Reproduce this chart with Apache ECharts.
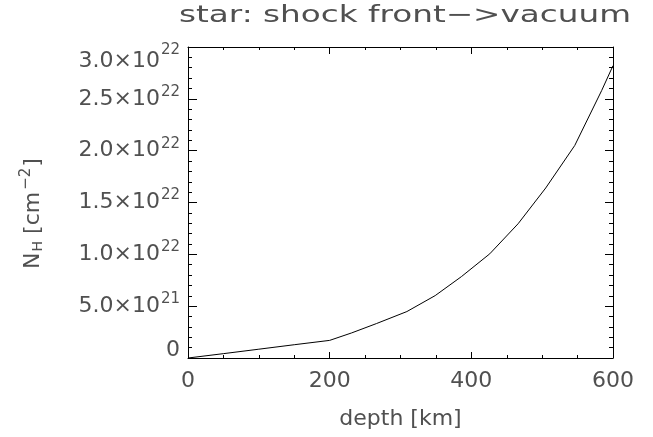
<!DOCTYPE html>
<html>
<head>
<meta charset="utf-8">
<script src="https://cdn.jsdelivr.net/npm/echarts@6/dist/echarts.min.js"></script>
<style>html,body{margin:0;padding:0;background:#fff}#c{width:653px;height:437px}</style>
</head>
<body>
<div id="c"></div>
<script>
// ---- data ----
const titleText = 'star: shock front\u2212>vacuum';
const xName = 'depth [km]';
const depthKm = [0, 50, 100, 150, 200, 231, 266, 309, 349, 386, 426, 466, 505, 546, 584, 600];
const columnDensity = [0, 4.2e20, 8.5e20, 1.28e21, 1.7e21, 2.42e21, 3.32e21, 4.48e21, 6.02e21, 7.85e21, 1.005e22, 1.295e22, 1.64e22, 2.05e22, 2.58e22, 2.82e22];
const xTicks = [0, 200, 400, 600];
const yTicks = [0, 5e21, 1e22, 1.5e22, 2e22, 2.5e22, 3e22];

const FONT = 'DejaVu Sans';
const TXT = '#505050';
const Y_MAX = yTicks[yTicks.length - 1];

function yLabel(v) {
  if (Math.abs(v) < 1) return '{z|0}';
  const e = Math.floor(Math.log10(v) + 1e-9);
  const m = (v / Math.pow(10, e)).toFixed(1);
  if (v >= Y_MAX * 0.999) return '{at|' + m + '\u00d710}{et|' + e + '}';
  return '{a|' + m + '\u00d710}{e|' + e + '}';
}

const chart = echarts.init(document.getElementById('c'));
const grid = {left: 188, right: 40, top: 47, bottom: 79};
const common = {
  type: 'value',
  axisLine: {show: true, onZero: false, lineStyle: {color: '#000', width: 1}},
  splitLine: {show: false},
};
chart.setOption({
  animation: false,
  backgroundColor: '#fff',
  grid: grid,
  graphic: [{
    type: 'text', x: 405, y: 28, scaleX: 1.42,
    style: {text: titleText, x: 0, y: 0, textAlign: 'center', textVerticalAlign: 'bottom',
      font: '23px "DejaVu Sans"', fill: TXT}
  }],
  xAxis: [
    Object.assign({}, common, {
      position: 'bottom', min: xTicks[0], max: xTicks[xTicks.length - 1], interval: 200,
      axisTick: {show: true, inside: true, length: 6, lineStyle: {color: '#000'}},
      minorTick: {show: true, splitNumber: 4, length: 3, lineStyle: {color: '#000'}},
      axisLabel: {margin: 12, fontFamily: FONT, fontSize: 22, color: TXT},
      name: xName, nameLocation: 'middle', nameGap: 50,
      nameTextStyle: {fontFamily: FONT, fontSize: 22, color: TXT}
    }),
    Object.assign({}, common, {
      position: 'top', min: 0, max: 600, interval: 200,
      axisTick: {show: true, inside: true, length: 7, lineStyle: {color: '#000'}},
      minorTick: {show: true, splitNumber: 4, length: 3, lineStyle: {color: '#000'}},
      axisLabel: {show: false}
    })
  ],
  yAxis: [
    Object.assign({}, common, {
      position: 'left', min: yTicks[0], max: Y_MAX, interval: 5e21,
      axisTick: {show: true, inside: true, length: 9, lineStyle: {color: '#000'}},
      minorTick: {show: true, splitNumber: 5, length: 4, lineStyle: {color: '#000'}},
      axisLabel: {
        margin: 8, formatter: yLabel,
        rich: {
          a: {fontFamily: FONT, fontSize: 22, color: TXT},
          e: {fontFamily: FONT, fontSize: 15, color: TXT, padding: [0, 0, 14, 1]},
          at: {fontFamily: FONT, fontSize: 22, color: TXT, lineHeight: 50, verticalAlign: 'bottom'},
          et: {fontFamily: FONT, fontSize: 15, color: TXT, lineHeight: 50, verticalAlign: 'bottom', padding: [0, 0, 14, 1]},
          z: {fontFamily: FONT, fontSize: 22, color: TXT, lineHeight: 38, verticalAlign: 'top'}
        }
      },
      name: '{n|N}{s|H}{n| [cm}{p|\u22122}{n|]}',
      nameLocation: 'middle', nameRotate: 90, nameGap: 140,
      nameTextStyle: {
        padding: [0, 22, 0, 0],
        rich: {
          n: {fontFamily: FONT, fontSize: 22, color: TXT},
          s: {fontFamily: FONT, fontSize: 14, color: TXT, padding: [10, 0, 0, 1]},
          p: {fontFamily: FONT, fontSize: 15, color: TXT, padding: [0, 1, 14, 2]}
        }
      }
    }),
    Object.assign({}, common, {
      position: 'right', min: 0, max: Y_MAX, interval: 5e21,
      axisTick: {show: true, inside: true, length: 8, lineStyle: {color: '#000'}},
      minorTick: {show: true, splitNumber: 5, length: 4, lineStyle: {color: '#000'}},
      axisLabel: {show: false}
    })
  ],
  series: [{
    type: 'line',
    xAxisIndex: 0, yAxisIndex: 0,
    data: depthKm.map((d, i) => [d, columnDensity[i]]),
    showSymbol: false, symbol: 'none',
    lineStyle: {color: '#000', width: 1},
    clip: true
  }]
});
</script>
</body>
</html>
